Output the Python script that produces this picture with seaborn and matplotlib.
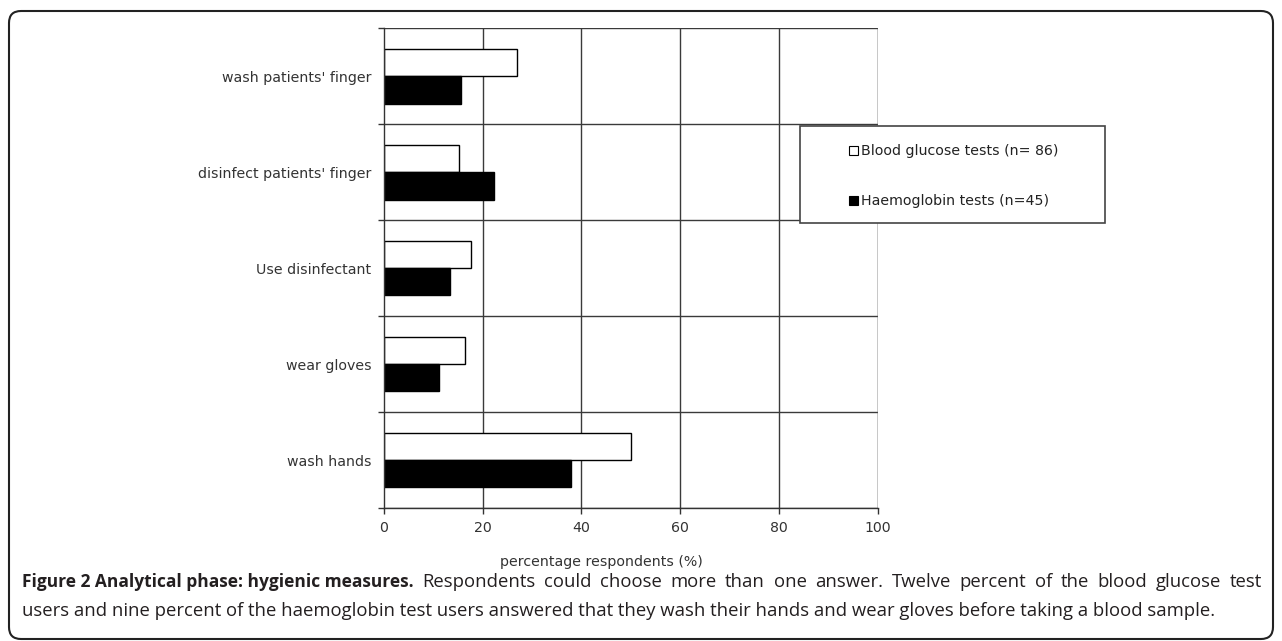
import pandas as pd
import matplotlib
matplotlib.use('Agg')
import matplotlib.pyplot as plt
import seaborn as sns
from matplotlib.patches import FancyBboxPatch, Rectangle
from matplotlib.transforms import IdentityTransform

# ── DATA ──────────────────────────────────────────────────────
measures = ["wash patients' finger", "disinfect patients' finger",
            "Use disinfectant", "wear gloves", "wash hands"]
glucose = [26.9, 15.2, 17.6, 16.5, 50.1]
haemoglobin = [15.7, 22.3, 13.4, 11.2, 37.9]
series = ["Blood glucose tests (n= 86)", "Haemoglobin tests (n=45)"]
x_ticks = [0, 20, 40, 60, 80, 100]

df = pd.DataFrame({
    'measure': measures * 2,
    'pct': glucose + haemoglobin,
    'test': [series[0]] * len(measures) + [series[1]] * len(measures),
})

sns.set_theme(style="white")
plt.rcParams['font.family'] = ['DejaVu Sans']

W, H = 1282, 641
fig = plt.figure(figsize=(W / 100, H / 100), dpi=100)
ax = fig.add_axes([383.7 / W, 1 - 508 / H, (878 - 383.7) / W, (508 - 28.3) / H])

sns.barplot(data=df, y='measure', x='pct', hue='test', order=measures,
            hue_order=series, palette=['white', 'black'], edgecolor='black',
            linewidth=1, width=0.57, orient='h', ax=ax, legend=False)

# ── AXES / GRID ───────────────────────────────────────────────
fs = 10.2
ax.set_xlim(0, 100)
ax.set_ylim(len(measures) - 0.5, -0.5)
ax.set_xticks(x_ticks)
ax.set_xticklabels([str(t) for t in x_ticks], color='#333333', fontsize=fs)
for t in x_ticks[1:]:
    ax.axvline(t, color='#3a3a3a', lw=1, zorder=0)
for b in range(len(measures) + 1):
    ax.axhline(b - 0.5, color='#3a3a3a', lw=1, zorder=0)
ax.axvline(100, color='#888888', lw=1, zorder=0)

ax.set_yticks(range(len(measures)))
ax.set_yticklabels(measures, color='#333333', fontsize=fs)
ax.set_yticks([b - 0.5 for b in range(len(measures) + 1)], minor=True)
ax.tick_params(axis='y', which='major', length=0, pad=9)
ax.tick_params(axis='y', which='minor', left=True, length=4, width=1, color='#333333')
ax.tick_params(axis='x', which='major', bottom=True, length=4, width=1,
               color='#333333', pad=5)
ax.set_ylabel('')
ax.set_xlabel('percentage respondents (%)', color='#333333', fontsize=fs)
ax.xaxis.set_label_coords((601 - 383.7) / (878 - 383.7), -0.098)

for side in ['top', 'right']:
    ax.spines[side].set_visible(False)
ax.spines['left'].set_color('#333333')
ax.spines['bottom'].set_color('#333333')
ax.spines['left'].set_linewidth(1)
ax.spines['bottom'].set_linewidth(1)

# ── LEGEND ────────────────────────────────────────────────────
fig.add_artist(Rectangle((800, H - 223), 305, 97, transform=IdentityTransform(),
                         facecolor='white', edgecolor='#444444', lw=1.2, zorder=5))
handles = [Rectangle((0, 0), 1, 1, facecolor=c, edgecolor='black', lw=0.8)
           for c in ['white', 'black']]
leg = fig.legend(handles, series, loc='upper left',
                 bbox_to_anchor=(842 / W, 1 - 137 / H), frameon=False,
                 fontsize=fs, handlelength=0.6, handleheight=0.6,
                 handletextpad=0.25, labelspacing=2.55, borderpad=0)
leg.set_zorder(6)
for txt in leg.get_texts():
    txt.set_color('#222222')

# ── BORDER + CAPTION ──────────────────────────────────────────
fig.add_artist(FancyBboxPatch((9, 2), 1264, 628,
                              boxstyle='round,pad=0,rounding_size=12',
                              transform=IdentityTransform(), facecolor='none',
                              edgecolor='#222222', lw=1.5))

cap_font = ['Open Sans', 'DejaVu Sans']
cap_fs = 13.3
bold_part = 'Figure 2 Analytical phase: hygienic measures.'
rest_1 = ('Respondents could choose more than one answer. Twelve percent '
          'of the blood glucose test')
line_2 = ('users and nine percent of the haemoglobin test users answered that '
          'they wash their hands and wear gloves before taking a blood sample.')

t_bold = fig.text(22 / W, 1 - 582 / H, bold_part, fontsize=12.5, fontweight='bold',
                  family=cap_font, color='#231f20', va='center')
fig.canvas.draw()
renderer = fig.canvas.get_renderer()
x_start = t_bold.get_window_extent(renderer).x1

# justify the first caption line out to the right edge, like the journal layout
words = rest_1.split()
word_texts = [fig.text(0, 1 - 582 / H, w, fontsize=cap_fs, family=cap_font,
                       color='#231f20', va='center') for w in words]
widths = [t.get_window_extent(renderer).width for t in word_texts]
gap = (1262 - x_start - sum(widths)) / len(words)
x = x_start + gap
for t, w in zip(word_texts, widths):
    t.set_x(x / W)
    x += w + gap

fig.text(22 / W, 1 - 611 / H, line_2, fontsize=cap_fs, family=cap_font,
         color='#231f20', va='center')

plt.savefig('out.png', dpi=100)
plt.close()
